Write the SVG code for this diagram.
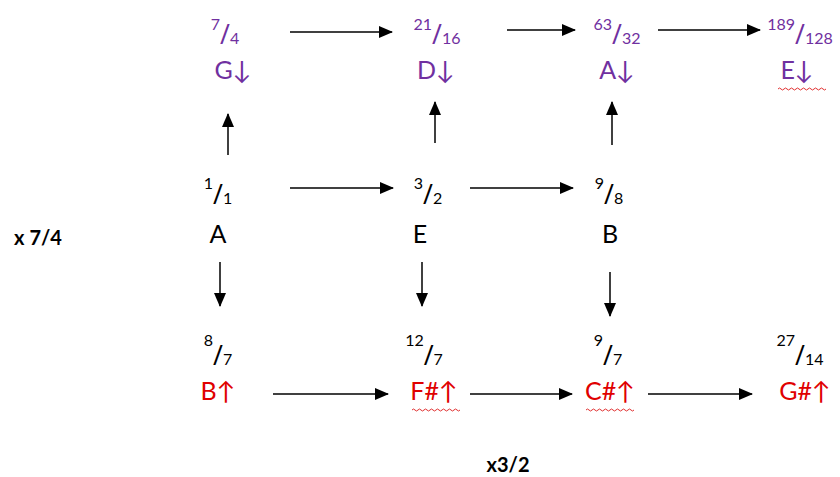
<svg xmlns="http://www.w3.org/2000/svg" width="840" height="477" viewBox="0 0 840 477">
<style>
text{font-family:"Lato","DejaVu Sans",sans-serif;text-anchor:middle}
.n{font-size:25px}
.s{font-size:16px}
.sl{font-size:27px;font-family:"Open Sans","DejaVu Sans",sans-serif}
.p{fill:#7030A0}
.r{fill:#E00000}
.k{fill:#000}
.lbl{font-size:20px;font-weight:bold;fill:#000}
.c line{stroke:#000;stroke-width:1.5;marker-end:url(#ah)}
.w{fill:none;stroke:#E03030;stroke-width:1}
</style>
<defs>
<marker id="ah" markerWidth="14" markerHeight="12" refX="13" refY="6" orient="auto" markerUnits="userSpaceOnUse">
<path d="M0,0 L14,6 L0,12 Z" fill="#000"/>
</marker>
<path id="wv" d="M0,0 q1.5,-2 3,0 t3,0 t3,0 t3,0 t3,0 t3,0 t3,0 t3,0 t3,0 t3,0 t3,0 t3,0 t3,0 t3,0 t3,0 t3,0" />
</defs>
<rect width="840" height="477" fill="#fff"/>

<g id="n-7-4" class="p">
<text x="225" y="44"><tspan class="s" dy="-14">7</tspan><tspan class="sl" dy="14">/</tspan><tspan class="s">4</tspan></text>
<text class="n" x="233" y="79">G↓</text>
</g>
<g id="n-21-16" class="p">
<text x="437" y="44"><tspan class="s" dy="-14">21</tspan><tspan class="sl" dy="14">/</tspan><tspan class="s">16</tspan></text>
<text class="n" x="436" y="79">D↓</text>
</g>
<g id="n-63-32" class="p">
<text x="617" y="44"><tspan class="s" dy="-14">63</tspan><tspan class="sl" dy="14">/</tspan><tspan class="s">32</tspan></text>
<text class="n" x="617" y="79">A↓</text>
</g>
<g id="n-189-128" class="p">
<text x="800" y="44"><tspan class="s" dy="-14">189</tspan><tspan class="sl" dy="14">/</tspan><tspan class="s">128</tspan></text>
<text class="n" x="797" y="79">E↓</text>
<use href="#wv" x="778" y="89" class="w"/>
</g>

<g id="n-1-1" class="k">
<text x="218" y="204"><tspan class="s" dy="-15">1</tspan><tspan class="sl" dy="15">/</tspan><tspan class="s">1</tspan></text>
<text class="n" x="218" y="243">A</text>
</g>
<g id="n-3-2" class="k">
<text x="428" y="204"><tspan class="s" dy="-15">3</tspan><tspan class="sl" dy="15">/</tspan><tspan class="s">2</tspan></text>
<text class="n" x="420" y="243">E</text>
</g>
<g id="n-9-8" class="k">
<text x="609" y="204"><tspan class="s" dy="-15">9</tspan><tspan class="sl" dy="15">/</tspan><tspan class="s">8</tspan></text>
<text class="n" x="610" y="243">B</text>
</g>

<g id="n-8-7">
<text class="k" x="218" y="365"><tspan class="s" dy="-19">8</tspan><tspan class="sl" dy="19">/</tspan><tspan class="s">7</tspan></text>
<text class="n r" x="218" y="400">B↑</text>
</g>
<g id="n-12-7">
<text class="k" x="424" y="365"><tspan class="s" dy="-19">12</tspan><tspan class="sl" dy="19">/</tspan><tspan class="s">7</tspan></text>
<text class="n r" x="434" y="400">F#↑</text>
<use href="#wv" x="412" y="410" class="w"/>
</g>
<g id="n-9-7">
<text class="k" x="608" y="365"><tspan class="s" dy="-19">9</tspan><tspan class="sl" dy="19">/</tspan><tspan class="s">7</tspan></text>
<text class="n r" x="610" y="400">C#↑</text>
<use href="#wv" x="586" y="410" class="w"/>
</g>
<g id="n-27-14">
<text class="k" x="800" y="365"><tspan class="s" dy="-19">27</tspan><tspan class="sl" dy="19">/</tspan><tspan class="s">14</tspan></text>
<text class="n r" x="805" y="400">G#↑</text>
</g>

<g id="labels">
<text class="lbl" x="38" y="245">x 7/4</text>
<text class="lbl" x="508" y="472">x3/2</text>
</g>

<g id="connectors" class="c">
<line x1="290" y1="32" x2="392" y2="32"/>
<line x1="507" y1="30" x2="575" y2="30"/>
<line x1="658" y1="30" x2="760" y2="30"/>
<line x1="290" y1="188" x2="393" y2="188"/>
<line x1="470" y1="188" x2="573" y2="188"/>
<line x1="273" y1="394" x2="388" y2="394"/>
<line x1="470" y1="394" x2="572" y2="394"/>
<line x1="648" y1="394" x2="752" y2="394"/>
<line x1="228" y1="155" x2="228" y2="114"/>
<line x1="435" y1="143" x2="435" y2="102"/>
<line x1="612" y1="145" x2="612" y2="102"/>
<line x1="220" y1="262" x2="220" y2="306"/>
<line x1="422" y1="262" x2="422" y2="306"/>
<line x1="610" y1="272" x2="610" y2="316"/>
</g>
</svg>
